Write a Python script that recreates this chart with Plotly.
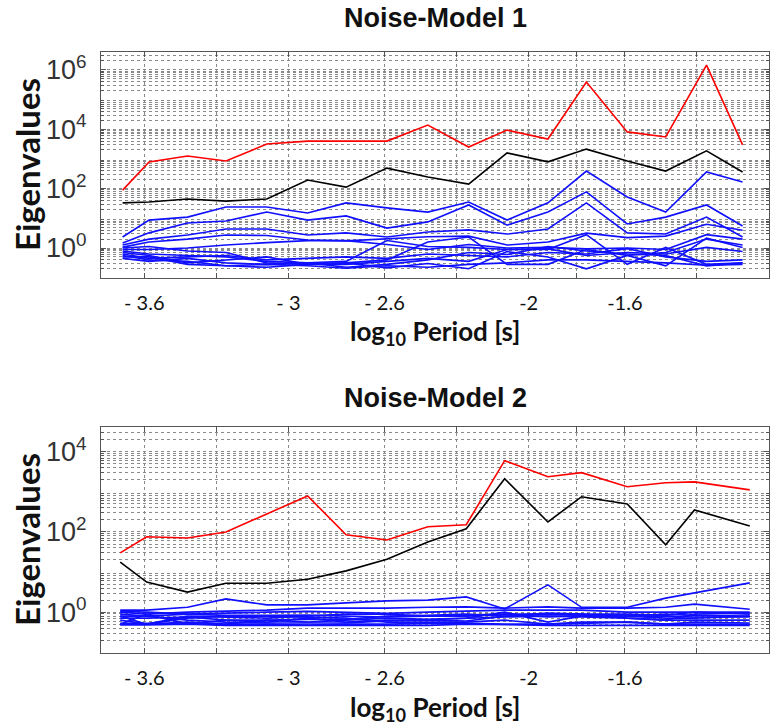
import numpy as np
import plotly.graph_objects as go

# ---------------- data (log10 of eigenvalues) ----------------
x_nm1 = [-3.69, -3.58, -3.42, -3.26, -3.09, -2.92, -2.76, -2.59, -2.42,
         -2.25, -2.09, -1.92, -1.76, -1.59, -1.43, -1.26, -1.11]
x_nm2 = [-3.70, -3.59, -3.42, -3.26, -3.09, -2.92, -2.76, -2.59, -2.42,
         -2.26, -2.10, -1.92, -1.78, -1.59, -1.43, -1.31, -1.08]

nm1_red = [1.95, 2.90, 3.10, 2.93, 3.50, 3.60, 3.60, 3.60, 4.14, 3.40, 3.97, 3.67, 5.59, 3.91, 3.74, 6.16, 3.47]
nm1_black = [1.52, 1.55, 1.65, 1.58, 1.65, 2.29, 2.05, 2.69, 2.39, 2.15, 3.20, 2.90, 3.33, 2.93, 2.59, 3.27, 2.56]
nm1_blue = [
    [0.37, 0.94, 1.04, 1.38, 1.38, 1.18, 1.52, 1.35, 1.21, 1.55, 0.94, 1.52, 2.59, 1.72, 1.21, 2.56, 2.22],
    [0.17, 0.51, 0.84, 0.91, 1.21, 0.94, 1.08, 0.67, 0.88, 1.45, 0.77, 1.21, 1.89, 0.81, 1.04, 1.45, 0.74],
    [0.10, 0.30, 0.44, 0.64, 0.64, 0.44, 0.51, 0.37, 0.54, 0.61, 0.47, 0.64, 1.52, 0.51, 0.47, 1.04, 0.37],
    [0.03, 0.20, 0.30, 0.44, 0.42, 0.27, 0.24, 0.30, 0.38, 0.40, 0.10, 0.20, 0.50, 0.35, 0.40, 0.80, 0.60],
    [0.00, 0.05, -0.10, -0.15, -0.50, -0.55, -0.50, -0.40, 0.20, 0.37, -0.55, -0.55, -0.05, -0.25, -0.15, 0.30, 0.10],
    [-0.05, -0.05, 0.00, 0.10, 0.18, 0.25, 0.25, 0.12, -0.05, 0.12, 0.00, 0.02, -0.03, 0.00, -0.05, 0.45, 0.30],
    [-0.15, -0.25, -0.50, -0.40, -0.30, -0.55, -0.55, -0.45, -0.35, -0.45, -0.05, -0.05, 0.45, -0.55, 0.02, -0.55, -0.50],
    [-0.25, -0.40, -0.45, -0.60, -0.65, -0.55, -0.50, -0.67, -0.52, -0.70, -0.12, -0.30, -0.70, -0.25, -0.60, 0.33, 0.02],
    [-0.10, -0.20, -0.25, -0.30, -0.45, -0.50, -0.45, 0.25, 0.05, 0.02, -0.05, -0.03, -0.25, -0.15, -0.20, 0.02, -0.12],
    [-0.35, -0.45, -0.35, -0.50, -0.55, -0.50, -0.65, -0.55, -0.40, -0.15, -0.22, 0.05, -0.10, -0.20, -0.25, -0.60, -0.50],
    [-0.30, -0.30, -0.55, -0.60, -0.55, -0.60, -0.68, -0.60, -0.65, -0.55, -0.50, -0.40, -0.40, -0.45, -0.50, -0.58, -0.55],
    [-0.20, -0.35, -0.30, -0.25, -0.40, -0.35, -0.30, -0.35, -0.20, -0.25, -0.30, -0.15, -0.20, -0.02, -0.30, -0.45, -0.40],
]

nm2_red = [1.48, 1.88, 1.85, 2.00, 2.45, 2.90, 1.93, 1.80, 2.13, 2.18, 3.78, 3.38, 3.48, 3.13, 3.23, 3.25, 3.05]
nm2_black = [1.25, 0.75, 0.50, 0.72, 0.72, 0.82, 1.03, 1.32, 1.75, 2.08, 3.33, 2.25, 2.88, 2.70, 1.68, 2.55, 2.15]
nm2_blue = [
    [0.05, 0.05, 0.12, 0.33, 0.18, 0.18, 0.23, 0.28, 0.30, 0.38, 0.08, 0.68, 0.12, 0.12, 0.35, 0.48, 0.73],
    [0.00, -0.05, 0.00, 0.02, 0.05, 0.10, 0.10, 0.10, 0.12, 0.13, 0.10, 0.13, 0.10, 0.10, 0.12, 0.20, 0.07],
    [-0.05, -0.10, -0.05, -0.02, 0.00, 0.02, 0.00, -0.03, 0.00, 0.02, 0.05, 0.05, 0.05, 0.00, 0.00, 0.00, 0.00],
    [-0.10, -0.30, -0.10, -0.12, -0.15, -0.10, -0.05, -0.05, -0.10, -0.10, -0.05, -0.05, -0.05, -0.05, -0.08, 0.00, -0.05],
    [-0.30, -0.05, -0.30, -0.20, -0.20, -0.25, -0.20, -0.15, -0.18, -0.15, 0.00, -0.25, -0.10, -0.10, -0.15, -0.15, -0.10],
    [-0.15, -0.15, -0.12, -0.20, -0.25, -0.15, -0.25, -0.20, -0.20, -0.22, -0.10, -0.10, -0.12, -0.15, -0.20, -0.20, -0.20],
    [-0.30, -0.30, -0.25, -0.30, -0.30, -0.32, -0.30, -0.30, -0.28, -0.28, -0.30, -0.30, -0.28, -0.25, -0.30, -0.30, -0.30],
    [-0.32, -0.32, -0.30, -0.33, -0.33, -0.33, -0.33, -0.33, -0.33, -0.30, -0.32, -0.33, -0.33, -0.33, -0.33, -0.33, -0.33],
    [0.02, 0.00, -0.05, -0.08, -0.08, -0.07, -0.10, -0.12, -0.10, -0.08, -0.05, -0.12, -0.08, -0.10, -0.05, -0.08, -0.10],
    [-0.20, -0.30, -0.15, -0.10, -0.10, -0.12, -0.15, -0.25, -0.25, -0.25, -0.20, -0.30, -0.25, -0.25, -0.30, -0.25, -0.27],
    [-0.28, -0.28, -0.30, -0.30, -0.20, -0.18, -0.18, -0.10, -0.08, -0.05, -0.10, -0.02, -0.05, -0.15, -0.20, -0.05, -0.02],
    [-0.10, -0.10, -0.20, -0.25, -0.27, -0.27, -0.27, -0.22, -0.18, -0.15, -0.12, -0.10, -0.10, -0.10, -0.10, -0.12, -0.12],
]

titles = ["Noise-Model 1", "Noise-Model 2"]
x_tickvals = [-3.6, -3.3, -3.0, -2.6, -2.3, -2.0, -1.8, -1.6, -1.3, -1.0]
x_ticktext = ["- 3.6", "", "- 3", "- 2.6", "", "-2", "", "-1.6", "", "-1"]
y1_tickvals = [1, 1e2, 1e4, 1e6]
y1_ticktext = ["10<sup>0</sup>", "10<sup>2</sup>", "10<sup>4</sup>", "10<sup>6</sup>"]
y2_tickvals = [1, 1e2, 1e4]
y2_ticktext = ["10<sup>0</sup>", "10<sup>2</sup>", "10<sup>4</sup>"]

W, H = 778, 725
fig = go.Figure()


def add_panel(xs, red, black, blues, xa, ya):
    for b in blues:
        fig.add_trace(go.Scatter(x=xs, y=10 ** np.array(b), mode="lines",
                                 line=dict(color="#1010ff", width=1.6),
                                 xaxis=xa, yaxis=ya, showlegend=False))
    fig.add_trace(go.Scatter(x=xs, y=10 ** np.array(black), mode="lines",
                             line=dict(color="#000000", width=1.6),
                             xaxis=xa, yaxis=ya, showlegend=False))
    fig.add_trace(go.Scatter(x=xs, y=10 ** np.array(red), mode="lines",
                             line=dict(color="#ff0000", width=1.6),
                             xaxis=xa, yaxis=ya, showlegend=False))


add_panel(x_nm1, nm1_red, nm1_black, nm1_blue, "x", "y")
add_panel(x_nm2, nm2_red, nm2_black, nm2_blue, "x2", "y2")


def minor_vals(lo, hi):
    out = []
    for e in range(lo, hi):
        for m in range(2, 10):
            out.append(m * 10.0 ** e)
    return out


xdom = [101 / W, 769 / W]
grid_col = "#8a8a8a"
axis_col = "#555555"

xcommon = dict(range=[-3.78, -1.0], tickvals=x_tickvals, ticktext=x_ticktext,
               showgrid=True, gridcolor=grid_col, griddash="dot", gridwidth=1,
               ticks="inside", ticklen=5, tickcolor=axis_col,
               showline=True, linecolor=axis_col, linewidth=1, mirror="allticks",
               zeroline=False, domain=xdom, ticklabelstandoff=7,
               tickfont=dict(family="Lato, Open Sans, sans-serif", size=20, color="#111111"))


def ycommon(rng, tv, tt, lo, hi, dom):
    return dict(type="log", range=rng, tickvals=tv, ticktext=tt,
                showgrid=True, gridcolor=grid_col, griddash="dot", gridwidth=1,
                ticks="inside", ticklen=5, tickcolor=axis_col,
                showline=True, linecolor=axis_col, linewidth=1, mirror="allticks",
                zeroline=False, domain=dom, ticklabelstandoff=8,
                tickfont=dict(family="Liberation Sans, Arial, sans-serif", size=27, color="#333333"),
                minor=dict(tickvals=minor_vals(lo, hi), showgrid=True, gridcolor=grid_col,
                           griddash="dot", gridwidth=1, ticks="inside", ticklen=3,
                           tickcolor=axis_col))


fig.update_layout(
    width=W, height=H,
    margin=dict(l=0, r=0, t=0, b=0),
    paper_bgcolor="white", plot_bgcolor="white",
    xaxis=dict(anchor="y", **xcommon),
    xaxis2=dict(anchor="y2", **xcommon),
    yaxis=dict(anchor="x", **ycommon([-1.01, 6.6], y1_tickvals, y1_ticktext, -2, 7,
                                      [1 - 278 / H, 1 - 52 / H])),
    yaxis2=dict(anchor="x2", **ycommon([-1.02, 4.62], y2_tickvals, y2_ticktext, -2, 5,
                                        [1 - 653 / H, 1 - 427 / H])),
)

ann = []
title_font = dict(family="Liberation Sans, Arial, sans-serif", size=27, color="#111111")
lab_font = dict(family="Lato, Open Sans, sans-serif", size=26, color="#111111")
ylab_font = dict(family="Lato, Open Sans, sans-serif", size=33, color="#111111")
for title, ty, xty, yly in [(titles[0], 18, 333, 165), (titles[1], 398, 708, 540)]:
    ann.append(dict(text="<b>%s</b>" % title, x=435 / W, y=1 - ty / H, xref="paper", yref="paper",
                    xanchor="center", yanchor="middle", showarrow=False, font=title_font))
    ann.append(dict(text="<b>log<sub>10</sub> Period [s]</b>", x=435 / W, y=1 - xty / H,
                    xref="paper", yref="paper", xanchor="center", yanchor="middle",
                    showarrow=False, font=lab_font))
    ann.append(dict(text="<b>Eigenvalues</b>", x=27 / W, y=1 - yly / H, xref="paper", yref="paper",
                    xanchor="center", yanchor="middle", textangle=-90, showarrow=False,
                    font=ylab_font))
fig.update_layout(annotations=ann)

fig.write_html("out.html")
